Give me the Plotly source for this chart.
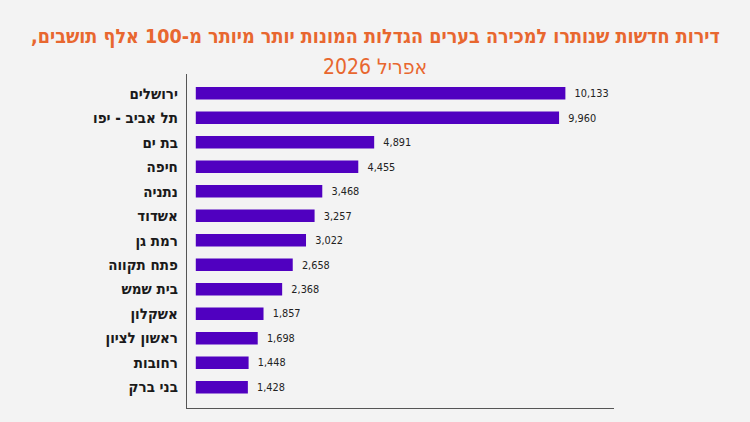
import plotly.graph_objects as go

cities = ["ירושלים", "תל אביב - יפו", "בת ים", "חיפה", "נתניה", "אשדוד", "רמת גן",
          "פתח תקווה", "בית שמש", "אשקלון", "ראשון לציון", "רחובות", "בני ברק"]
values = [10133, 9960, 4891, 4455, 3468, 3257, 3022, 2658, 2368, 1857, 1698, 1448, 1428]

title_line1 = "דירות חדשות שנותרו למכירה בערים הגדלות המונות יותר מיותר מ-100 אלף תושבים,\u200f"
title_line2 = "אפריל 2026"

BG = "#f3f3f3"
BAR = "#5000c0"
ORANGE = "#e8672f"
FONT = "DejaVu Sans Condensed"

fig = go.Figure()
fig.add_trace(go.Bar(
    x=values,
    y=cities,
    orientation="h",
    marker=dict(color=BAR, line=dict(width=0)),
    width=0.51,
    text=["  " + f"{v:,}" for v in values],
    textposition="outside",
    textfont=dict(family=FONT, size=13, color="#222222"),
    cliponaxis=False,
    hoverinfo="skip",
))

fig.update_layout(
    width=750, height=422,
    paper_bgcolor=BG, plot_bgcolor=BG,
    margin=dict(l=187, r=136, t=74, b=14),
    showlegend=False,
    bargap=0.49,
    xaxis=dict(range=[-241, 11466], showgrid=False, zeroline=False,
               showticklabels=False, ticks="", showline=True,
               linecolor="#555555", linewidth=1.2),
    yaxis=dict(categoryorder="array", categoryarray=cities,
               range=[12.85, -0.79], showgrid=False, zeroline=False,
               showline=True, linecolor="#555555", linewidth=1.2,
               ticks="", ticklabelstandoff=5,
               tickfont=dict(family=FONT, size=15, color="#1a1a1a", weight="bold")),
    annotations=[
        dict(text=title_line1, x=0.5, y=36, xref="paper", yref="paper",
             showarrow=False, font=dict(family=FONT, size=19.6, color=ORANGE, weight="bold"),
             xanchor="center", yanchor="middle"),
        dict(text=title_line2, x=0.5, y=67, xref="paper", yref="paper",
             showarrow=False, font=dict(family=FONT, size=21, color=ORANGE),
             xanchor="center", yanchor="middle"),
    ],
)

# convert annotation pixel y to paper coords
plot_h = 422 - 74 - 14
for ann in fig.layout.annotations:
    ann.y = 1 + (74 - ann.y) / plot_h
    ann.x = (375 - 187) / (750 - 187 - 136)

fig.write_html("out.html")
